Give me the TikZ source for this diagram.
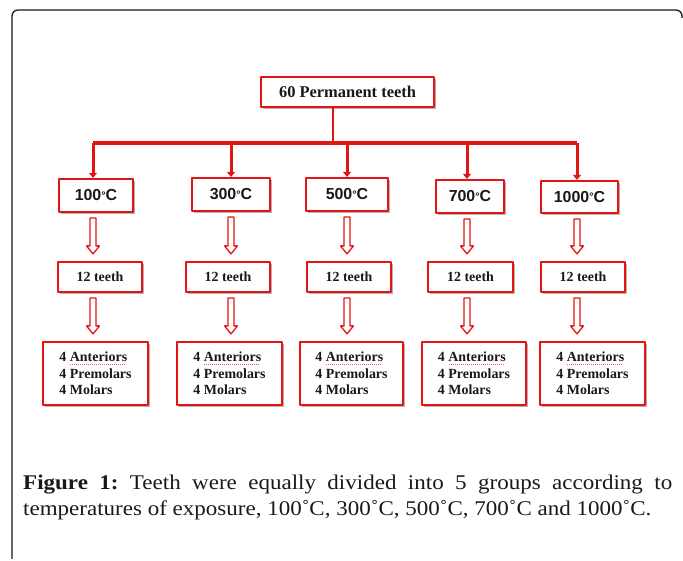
\documentclass[tikz,border=0pt]{standalone}
\usepackage{fontspec}
\setmainfont{Liberation Serif}
\newfontfamily\arialfont{Liberation Sans}
\newfontfamily\capfont[FakeStretch=1.1]{Liberation Serif}
\usetikzlibrary{arrows.meta,calc,shadows}
\definecolor{boxred}{RGB}{228,20,20}
\definecolor{ink}{RGB}{25,25,25}
\newcommand\degc{{\fontsize{11}{11}\selectfont\raisebox{1.5bp}{°}}C}
\newcommand\squig[1]{\setbox0\hbox{#1}\rlap{\textcolor{red!65}{\raisebox{-2.5bp}{\hbox to \wd0{\leaders\hbox to 2bp{\hss\rule{1.1bp}{0.6bp}\hss}\hfill}}}}#1}
\newcommand\blockarr[3]{%
  \draw [hollow] ($(#1.south -| #3)+(-3bp,-5bp)$) -- ($(#2.north -| #3)+(-3bp,15bp)$) -- ++(-3.5bp,0)
    -- ($(#2.north -| #3)+(0,7bp)$) -- ++(6.5bp,8bp) -- ++(-3.5bp,0) -- ($(#1.south -| #3)+(3bp,-5bp)$) -- cycle;}
\begin{document}
\frenchspacing
\begin{tikzpicture}[>={Triangle[width=8bp,length=5bp]},line join=bevel,
  box/.style={draw=boxred,line width=2.2bp,fill=white,inner sep=0pt,text=ink,
    drop shadow={shadow xshift=1.6bp,shadow yshift=-1.6bp,fill=black,opacity=.3}},
  topbox/.style={box,minimum width=173bp,minimum height=30bp,font=\fontsize{16.5}{18}\selectfont\bfseries},
  tempbox/.style={box,minimum height=33bp,font=\arialfont\bfseries\fontsize{16}{18}\selectfont},
  countbox/.style={box,minimum height=30bp,minimum width=84bp,font=\fontsize{14}{16}\selectfont\bfseries},
  groupbox/.style={box,minimum height=63bp,minimum width=104bp,align=left,font=\fontsize{14}{16.5}\selectfont\bfseries},
  stem/.style={boxred,line width=2.6bp},
  bar/.style={boxred,line width=4.5bp,line cap=square},
  drop/.style={->,boxred,line width=3bp},
  hollow/.style={draw=boxred,line width=1.3bp,fill=white},
  capt/.style={anchor=base west,inner sep=0pt,text=ink,font=\capfont\fontsize{21}{24}\selectfont},
  frame/.style={draw=ink,line width=1.3bp,rounded corners=6bp}]
\useasboundingbox (0bp,0bp) rectangle (683bp,561bp);
%%
\draw [frame] (12bp,2bp) -- (12bp,551bp) -- (682bp,551bp) -- (682bp,543bp);
%
\node (top) at (347.5bp,469bp) [topbox] {60 Permanent teeth};
\coordinate (j) at (333bp,418bp);
\coordinate (d1) at (93bp,418bp);
\coordinate (d2) at (231bp,418bp);
\coordinate (d3) at (347bp,418bp);
\coordinate (d4) at (467bp,418bp);
\coordinate (d5) at (577bp,418bp);
%
\node (t100) at (96bp,365.5bp) [tempbox,minimum width=74bp] {100\degc};
\node (t300) at (231bp,366.5bp) [tempbox,minimum width=78bp] {300\degc};
\node (t500) at (347bp,366.5bp) [tempbox,minimum width=82bp] {500\degc};
\node (t700) at (470bp,364.5bp) [tempbox,minimum width=68bp] {700\degc};
\node (t1000) at (579.5bp,364bp) [tempbox,minimum width=77bp,minimum height=32bp] {1000\degc};
%
\node (n100) at (100bp,284bp) [countbox] {12 teeth};
\node (n300) at (228bp,284bp) [countbox] {12 teeth};
\node (n500) at (349bp,284bp) [countbox] {12 teeth};
\node (n700) at (470.5bp,284bp) [countbox,minimum width=85bp] {12 teeth};
\node (n1000) at (583bp,284bp) [countbox] {12 teeth};
%
\node (g100) at (95.5bp,187.5bp) [groupbox,minimum width=105bp] {4 \squig{Anteriors}\\4 Premolars\\4 Molars};
\node (g300) at (229.5bp,187.5bp) [groupbox,minimum width=105bp] {4 \squig{Anteriors}\\4 Premolars\\4 Molars};
\node (g500) at (351.5bp,187.5bp) [groupbox,minimum width=103bp] {4 \squig{Anteriors}\\4 Premolars\\4 Molars};
\node (g700) at (474bp,187.5bp) [groupbox] {4 \squig{Anteriors}\\4 Premolars\\4 Molars};
\node (g1000) at (592.5bp,187.5bp) [groupbox,minimum width=105bp] {4 \squig{Anteriors}\\4 Premolars\\4 Molars};
%
\draw [stem] (top.south -| j) -- (j);
\draw [bar] (d1) -- (d5);
\draw [drop] (d1) -- (t100.north -| d1);
\draw [drop] (d2) -- (t300.north -| d2);
\draw [drop] (d3) -- (t500.north -| d3);
\draw [drop] (d4) -- (t700.north -| d4);
\draw [drop] (d5) -- (t1000.north -| d5);
%
\blockarr{t100}{n100}{d1}
\blockarr{t300}{n300}{d2}
\blockarr{t500}{n500}{d3}
\blockarr{t700}{n700}{d4}
\blockarr{t1000}{n1000}{d5}
\blockarr{n100}{g100}{d1}
\blockarr{n300}{g300}{d2}
\blockarr{n500}{g500}{d3}
\blockarr{n700}{g700}{d4}
\blockarr{n1000}{g1000}{d5}
%
\node (cap1) at (23bp,71bp) [capt] {\makebox[649bp][s]{\textbf{Figure 1:} Teeth were equally divided into 5 groups according to}};
\node (cap2) at (23bp,45bp) [capt] {temperatures of exposure, 100˚C, 300˚C, 500˚C, 700˚C and 1000˚C.};
%
\end{tikzpicture}
\end{document}
